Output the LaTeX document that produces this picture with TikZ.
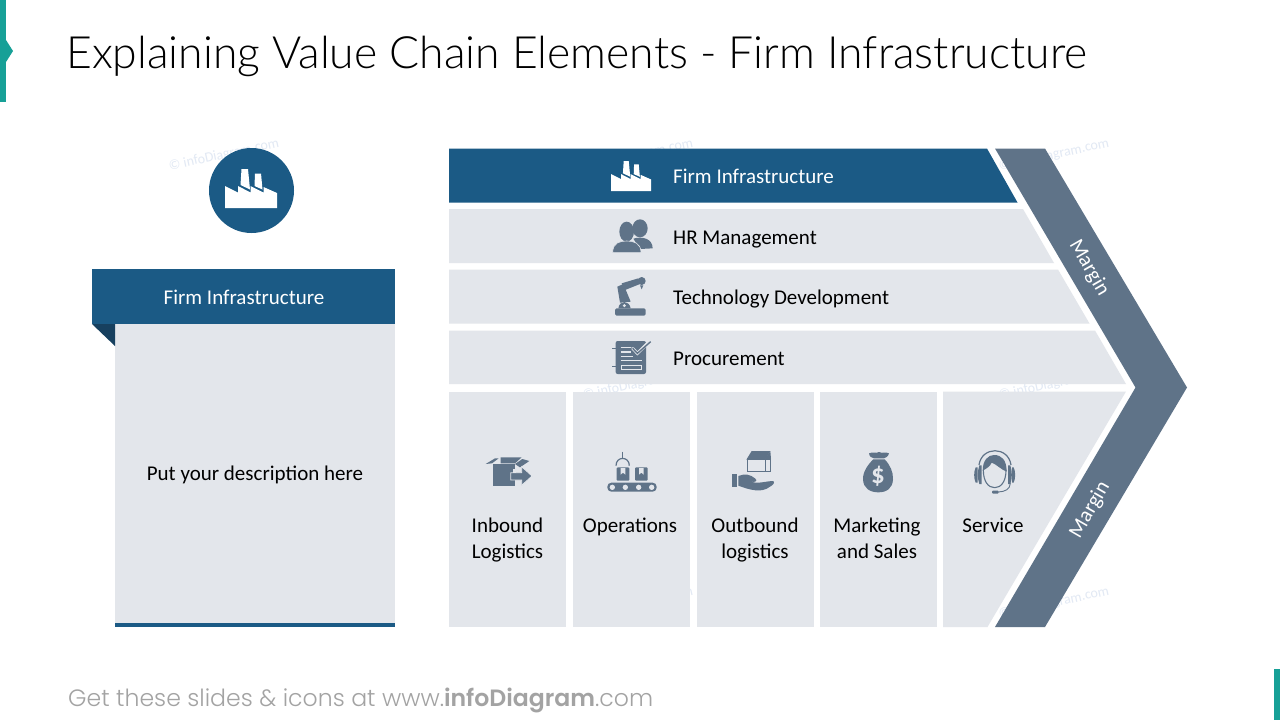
\documentclass[tikz,border=0pt]{standalone}
\usepackage{fontspec}
\setmainfont{Carlito}
\newfontfamily\footfont{Poppins Light}[BoldFont={Poppins SemiBold}]
\newfontfamily\titlefont{Lato Light}
\definecolor{navy}{HTML}{1B5A85}
\definecolor{navydark}{HTML}{17405F}
\definecolor{slate}{HTML}{5F7388}
\definecolor{pale}{HTML}{E3E6EB}
\definecolor{teal1}{HTML}{17A097}
\definecolor{wm}{HTML}{E2E9F4}
\tikzset{
  lbl/.style={inner sep=0pt,font=\fontsize{21}{26}\selectfont,text=black},
  rowlbl/.style={lbl,anchor=base west},
  collbl/.style={lbl,align=center,anchor=north},
  wmark/.style={inner sep=0pt,rotate=12,text=wm,font=\fontsize{14}{16}\selectfont},
  zoomed/.style={shift={#1},scale=1/3},
  ic/.style={fill=slate,draw=none},
  icl/.style={fill=pale,draw=none},
}
\newcommand{\factory}[1]{%
  \fill[#1] (0,17) -- (13,23.5) -- (13,17) -- (25.5,23.5) -- (25.5,17) -- (38.5,23.5) -- (38.5,18) -- (52,24) -- (52,39) -- (0,39) -- cycle;
  \fill[#1] (16.5,0) -- (23,0) -- (25,20.5) -- (15.5,16) -- cycle;
  \fill[#1] (30,4.5) -- (36,4.5) -- (37.5,20.5) -- (29.5,17) -- cycle;
}
\begin{document}
\begin{tikzpicture}[x=1pt,y=-1pt]
\useasboundingbox (0,0) rectangle (1280,720);
\fill[white] (0,0) rectangle (1280,720);
% watermarks
\node[wmark] (w1) at (224,155) {© infoDiagram.com};
\node[wmark] (w2) at (638,155) {© infoDiagram.com};
\node[wmark] (w3) at (1054,155) {© infoDiagram.com};
\node[wmark] (w4) at (638,384) {© infoDiagram.com};
\node[wmark] (w5) at (1054,384) {© infoDiagram.com};
\node[wmark] (w6) at (638,603) {© infoDiagram.com};
\node[wmark] (w7) at (1054,603) {© infoDiagram.com};
% accents
\fill[teal1] (0,0) rectangle (6,102);
\fill[teal1] (6,40) -- (13,51) -- (6,62) -- cycle;
\fill[teal1] (1274,669) rectangle (1280,720);
% title and footer
\node[inner sep=0pt,anchor=base west,font=\titlefont\fontsize{44.5}{50}\selectfont] (title) at (66,68) {Explaining Value Chain Elements - Firm Infrastructure};
\node[inner sep=0pt,anchor=base west,text=black!36,font=\footfont\fontsize{23.6}{26}\selectfont] (foot) at (68,706) {Get these slides \& icons at www.\textbf{infoDiagram}.com};
% left panel
\fill[pale] (115,324) rectangle (395,627);
\fill[navy] (115,623) rectangle (395,627);
\fill[navydark] (92,324) -- (115,324) -- (115,346) -- cycle;
\fill[navy] (92,269) rectangle (395,324);
\node[lbl,text=white] (lefthead) at (244,297) {Firm Infrastructure};
\node[lbl] (leftbody) at (255,475) {Put your description here};
\fill[navy] (251.5,190.5) circle[radius=42.5];
\begin{scope}[shift={(225,169)}]\factory{white}\end{scope}
% rows
\fill[navy] (449,148.5) -- (987,148.5) -- (1017.5,202.5) -- (449,202.5) -- cycle;
\fill[pale] (449,209) -- (1023,209) -- (1054,263) -- (449,263) -- cycle;
\fill[pale] (449,269.5) -- (1058,269.5) -- (1089.5,323.5) -- (449,323.5) -- cycle;
\fill[pale] (449,330.5) -- (1095,330.5) -- (1126,384) -- (449,384) -- cycle;
\node[rowlbl,text=white] (r1) at (673,183.5) {Firm Infrastructure};
\node[rowlbl] (r2) at (673,244.5) {HR Management};
\node[rowlbl] (r3) at (673,304.5) {Technology Development};
\node[rowlbl] (r4) at (673,365.5) {Procurement};
% columns
\fill[pale] (449,391.5) rectangle (566,627);
\fill[pale] (573,391.5) rectangle (690,627);
\fill[pale] (696.5,391.5) rectangle (814,627);
\fill[pale] (820,391.5) rectangle (937,627);
\fill[pale] (943,391.5) -- (1126,391.5) -- (987.5,627) -- (943,627) -- cycle;
\node[collbl] (c1) at (507.5,517.5) {Inbound\\Logistics};
\node[collbl] (c2) at (630,517.5) {Operations};
\node[collbl] (c3) at (755,517.5) {Outbound\\logistics};
\node[collbl] (c4) at (877,517.5) {Marketing\\and Sales};
\node[collbl] (c5) at (993,517.5) {Service};
% chevron
\fill[slate] (995,148.5) -- (1045,148.5) -- (1187,387.5) -- (1045,627) -- (995,627) -- (1135.5,387.5) -- cycle;
\node[lbl,text=white,rotate=-60] (m1) at (1089,268) {Margin};
\node[lbl,text=white,rotate=60] (m2) at (1090,510) {Margin};
% factory icon in row
\begin{scope}[shift={(611,161)},scale=0.77]\factory{white}\end{scope}
% people (zoom coords 590,140)
\begin{scope}[zoomed={(590,140)}]
 \fill[ic] (150,265) ellipse[x radius=23,y radius=27];
 \fill[ic] (130,296) .. controls (155,288) and (188,295) .. (188,325) -- (150,327) -- cycle;
 \fill[ic] (110,275) ellipse[x radius=22,y radius=30];
 \fill[ic,draw=pale,line width=0.6pt] (68,338) .. controls (68,308) and (90,303) .. (110,303) .. controls (130,303) and (153,308) .. (153,338) -- cycle;
\end{scope}
% robot
\begin{scope}[zoomed={(590,140)}]
 \fill[ic,rounded corners=1.5pt] (75,505) rectangle (167,527);
 \fill[ic] (85,505) .. controls (88,480) and (118,480) .. (122,505) -- cycle;
 \fill[ic] (82,440) -- (100,432) -- (122,485) -- (90,488) -- cycle;
 \fill[ic] (95,430) -- (145,415) -- (150,432) -- (105,450) -- cycle;
 \fill[ic] (155,423) circle[radius=12];
 \fill[ic] (150,436) -- (160,436) -- (155,448) -- cycle;
 \fill[icl] (103,497) circle[radius=5];
\end{scope}
% document
\begin{scope}[zoomed={(590,140)}]
 \fill[ic,rounded corners=2pt] (77,603) rectangle (168,702);
 \draw[slate,line width=1pt] (66,625) -- (82,625) (66,680) -- (82,680);
 \draw[pale,line width=1.2pt] (92,623) -- (122,623) (92,636) -- (122,636) (92,649) -- (128,649) (92,662) -- (157,662);
 \draw[pale,line width=1.1pt] (95,677) rectangle (155,688);
 \draw[pale,line width=3pt,line cap=round] (128,625) -- (142,640) -- (172,610);
 \draw[slate,line width=1.4pt] (128,625) -- (142,640) -- (182,605);
\end{scope}
% inbound box
\begin{scope}[zoomed={(470,440)}]
 \fill[ic] (68,72) rectangle (135,137);
 \fill[ic] (47,72) -- (75,55) -- (86,55) -- (66,70) -- cycle;
 \fill[ic] (92,52) -- (155,52) -- (135,70) -- (92,70) -- cycle;
 \fill[ic] (135,72) -- (157,57) -- (178,63) -- (150,82) -- cycle;
 \fill[ic,draw=pale,line width=0.8pt] (122,98) -- (155,98) -- (155,80) -- (186,108) -- (155,136) -- (155,120) -- (122,120) -- cycle;
 \fill[icl] (130,88) rectangle (138,98);
\end{scope}
% operations
\begin{scope}[zoomed={(470,440)}]
 \draw[slate,line width=1.2pt] (457,35) -- (457,55);
 \draw[slate,line width=1.2pt] (438,77) .. controls (438,48) and (478,48) .. (478,77);
 \fill[ic,rounded corners=1pt] (440,82) rectangle (478,122);
 \fill[ic,rounded corners=1pt] (495,82) rectangle (533,122);
 \fill[icl] (452,84) -- (466,84) -- (466,104) -- (459,98) -- (452,104) -- cycle;
 \fill[icl] (507,84) -- (521,84) -- (521,104) -- (514,98) -- (507,104) -- cycle;
 \fill[ic,rounded corners=4pt] (412,128) rectangle (560,155);
 \foreach \cx in {427,466,506,545} \fill[icl] (\cx,142) circle[radius=8];
\end{scope}
% outbound (zoom coords 725,445)
\begin{scope}[zoomed={(725,445)}]
 \fill[ic] (22,88) rectangle (36,126);
 \fill[ic] (40,93) .. controls (60,85) and (75,88) .. (90,100) .. controls (100,108) and (90,112) .. (80,110) .. controls (95,118) and (125,108) .. (145,108) .. controls (150,112) and (145,120) .. (135,125) .. controls (110,145) and (75,135) .. (40,122) -- cycle;
 \draw[slate,line width=0.9pt] (68,44) rectangle (136,80);
 \fill[ic] (64,44) -- (80,18) -- (136,18) -- (120,44) -- cycle;
 \fill[ic] (118,44) -- (136,18) -- (138,42) -- cycle;
 \draw[slate,line width=0.9pt] (120,44) -- (120,80);
\end{scope}
% money bag (zoom coords 840,440)
\begin{scope}[zoomed={(840,440)}]
 \fill[ic] (87,40) .. controls (100,34) and (105,42) .. (117,36) .. controls (130,42) and (135,34) .. (147,40) .. controls (145,50) and (135,54) .. (132,55) -- (102,55) .. controls (95,54) and (88,50) .. (87,40) -- cycle;
 \fill[ic] (100,58) -- (134,58) .. controls (150,75) and (160,95) .. (159,118) .. controls (158,145) and (140,157) .. (115,157) .. controls (90,157) and (70,145) .. (69,118) .. controls (68,95) and (85,72) .. (100,58) -- cycle;
 \node[inner sep=0pt,text=pale,font=\fontsize{27}{27}\bfseries\selectfont] (dollar) at (114,109) {\$};
\end{scope}
% headset
\begin{scope}[zoomed={(840,440)}]
 \draw[slate,line width=1.2pt] (417,75) .. controls (425,18) and (505,18) .. (513,75);
 \fill[ic] (428,92) .. controls (428,60) and (445,45) .. (462,45) .. controls (485,45) and (500,60) .. (500,95) .. controls (485,90) and (465,70) .. (455,68) .. controls (450,80) and (440,85) .. (428,92) -- cycle;
 \draw[slate,line width=1.1pt] (430,90) .. controls (430,125) and (445,143) .. (464,143) .. controls (483,143) and (498,125) .. (498,90);
 \fill[ic] (407,82) .. controls (401,95) and (401,115) .. (407,128) -- (413,128) -- (413,82) -- cycle;
 \fill[ic] (418,76) -- (425,76) -- (425,132) -- (418,132) .. controls (412,115) and (412,95) .. (418,76) -- cycle;
 \fill[ic] (504,76) -- (511,76) .. controls (517,95) and (517,115) .. (511,132) -- (504,132) -- cycle;
 \fill[ic] (516,82) -- (521,82) .. controls (527,95) and (527,115) .. (521,128) -- (516,128) -- cycle;
 \draw[slate,line width=0.9pt] (511,130) .. controls (510,148) and (495,155) .. (475,156);
 \fill[ic,rounded corners=1pt] (456,152) rectangle (476,161);
\end{scope}
\end{tikzpicture}
\end{document}
